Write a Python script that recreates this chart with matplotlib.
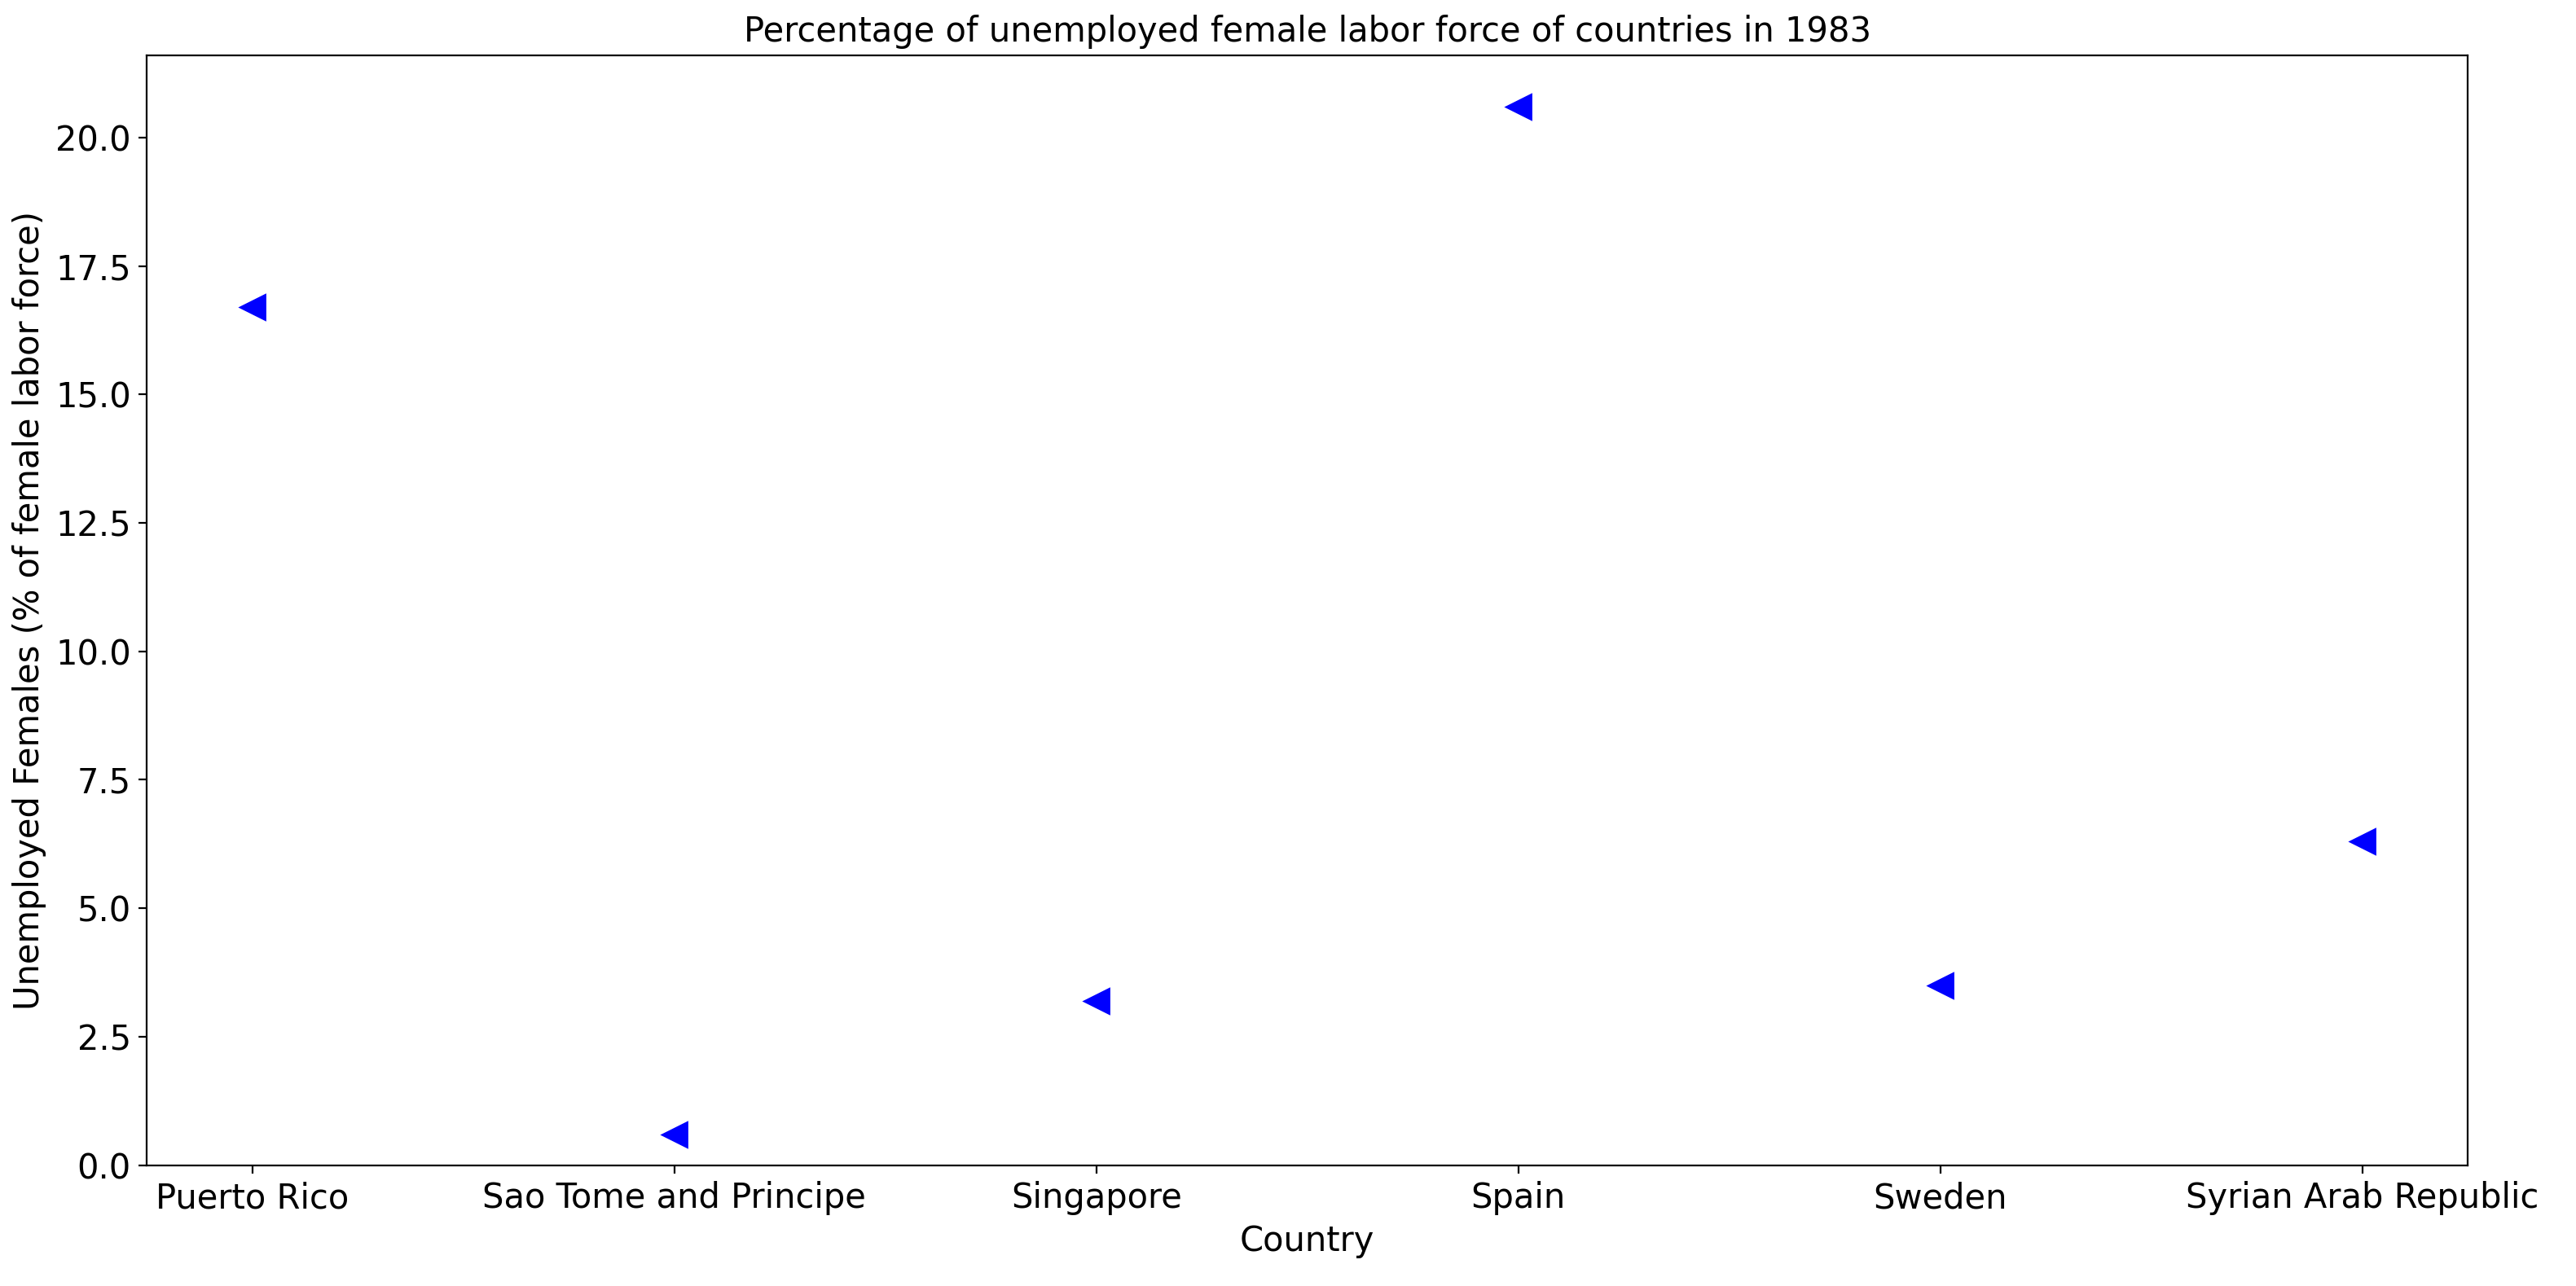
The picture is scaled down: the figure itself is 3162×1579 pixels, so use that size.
import matplotlib
matplotlib.use("Agg")
import matplotlib.pyplot as plt

countries = ["Puerto Rico", "Sao Tome and Principe", "Singapore", "Spain", "Sweden", "Syrian Arab Republic"]
values = [16.7, 0.6, 3.2, 20.6, 3.5, 6.3]

fig, ax = plt.subplots(figsize=(15.81, 7.895), dpi=200)
ax.plot(countries, values, linestyle="none", marker="<", color="blue", markersize=11)
ax.set_ylim(0, None)
ax.set_title("Percentage of unemployed female labor force of countries in 1983", fontsize=15)
ax.set_xlabel("Country", fontsize=15)
ax.set_ylabel("Unemployed Females (% of female labor force)", fontsize=15)
ax.tick_params(labelsize=15)
fig.subplots_adjust(left=0.057, right=0.958, top=0.957, bottom=0.094)
fig.savefig("out.png")
